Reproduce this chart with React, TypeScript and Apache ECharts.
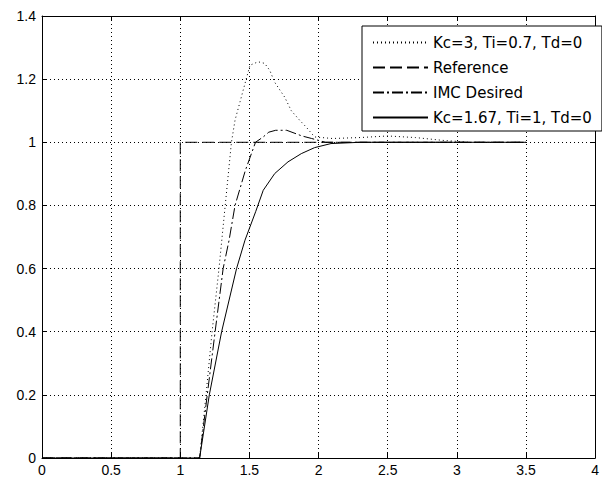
import React, { useEffect, useRef } from "react";
import * as echarts from "echarts";

// Axis ranges / ticks
const xMin = 0;
const xMax = 4;
const xStep = 0.5;
const yMin = 0;
const yMax = 1.4;
const yStep = 0.2;

// Series names
const seriesNames = [
  "Kc=3, Ti=0.7, Td=0",
  "Reference",
  "IMC Desired",
  "Kc=1.67, Ti=1, Td=0",
];

// Kc=3, Ti=0.7 (dotted)
const kc3X = [0, 1.14, 1.186, 1.23, 1.28, 1.325, 1.37, 1.396, 1.432, 1.504, 1.563, 1.61, 1.647, 1.683, 1.755, 1.803, 1.863, 1.911, 1.971, 2.1, 2.3, 2.5, 2.7, 2.9, 3.1, 3.5];
const kc3Y = [0, 0, 0.2, 0.4, 0.6, 0.8, 1.0, 1.07, 1.128, 1.244, 1.255, 1.25, 1.228, 1.19, 1.143, 1.1, 1.07, 1.048, 1.017, 1.012, 1.015, 1.02, 1.015, 1.006, 1.0, 1.0];

// Reference step (dashed)
const refX = [0, 1, 1, 3.5];
const refY = [0, 0, 1, 1];

// IMC desired (dash-dot)
const imcX = [0, 1.14, 1.195, 1.252, 1.31, 1.353, 1.396, 1.47, 1.544, 1.6, 1.64, 1.69, 1.77, 1.88, 1.95, 2.05, 3.5];
const imcY = [0, 0, 0.2, 0.4, 0.6, 0.69, 0.8, 0.91, 1.0, 1.017, 1.032, 1.038, 1.038, 1.02, 1.012, 1.0, 1.0];

// Kc=1.67, Ti=1 (solid)
const kc167X = [0, 1.14, 1.21, 1.299, 1.407, 1.468, 1.545, 1.6, 1.683, 1.779, 1.875, 1.971, 2.09, 2.3, 3.5];
const kc167Y = [0, 0, 0.2, 0.4, 0.6, 0.69, 0.78, 0.848, 0.901, 0.938, 0.964, 0.983, 0.996, 1.0, 1.0];

const pairs = (xs: number[], ys: number[]) => xs.map((x, i) => [x, ys[i]]);

const FONT = "Liberation Sans";
const LEGEND_FONT = "DejaVu Sans";

export default function App() {
  const ref = useRef<HTMLDivElement>(null);
  useEffect(() => {
    if (!ref.current) return;
    const chart = echarts.init(ref.current, undefined, { renderer: "svg" });
    const gridLine = { show: true, lineStyle: { color: "#000", width: 1, type: [1, 3] as any } };
    const axisLabel = { color: "#000", fontSize: 14, fontFamily: FONT };
    const frameAxis = { show: true, onZero: false, lineStyle: { color: "#000", width: 1 } };
    const tick = { show: true, inside: true, length: 5, lineStyle: { color: "#000" } };
    chart.setOption({
      animation: false,
      backgroundColor: "#fff",
      grid: { left: 42, right: 3, top: 16, bottom: 21, containLabel: false },
      xAxis: [
        {
          type: "value", min: xMin, max: xMax, interval: xStep, position: "bottom",
          axisLine: frameAxis, axisTick: tick,
          axisLabel: { ...axisLabel, margin: 5 },
          splitLine: gridLine,
        },
        {
          type: "value", min: xMin, max: xMax, interval: xStep, position: "top",
          axisLine: frameAxis, axisTick: tick,
          axisLabel: { show: false }, splitLine: { show: false },
        },
      ],
      yAxis: [
        {
          type: "value", min: yMin, max: yMax, interval: yStep, position: "left",
          axisLine: frameAxis, axisTick: tick,
          axisLabel: { ...axisLabel, margin: 6 },
          splitLine: gridLine,
        },
        {
          type: "value", min: yMin, max: yMax, interval: yStep, position: "right",
          axisLine: frameAxis, axisTick: tick,
          axisLabel: { show: false }, splitLine: { show: false },
        },
      ],
      legend: {
        show: true,
        orient: "vertical",
        left: 362,
        top: 26,
        itemWidth: 55,
        itemHeight: 14,
        itemGap: 10,
        padding: [9, 10, 6, 10],
        borderColor: "#000",
        borderWidth: 1,
        backgroundColor: "#fff",
        itemStyle: { color: "rgba(0,0,0,0)", borderWidth: 0, opacity: 0 },
        textStyle: { color: "#000", fontSize: 15, fontFamily: LEGEND_FONT },
        data: seriesNames,
      },
      series: [
        {
          name: seriesNames[0], type: "line", data: pairs(kc3X, kc3Y),
          symbol: "none", showSymbol: false,
          lineStyle: { color: "#000", width: 1, type: [1, 3] },
          itemStyle: { color: "#000" },
        },
        {
          name: seriesNames[1], type: "line", data: pairs(refX, refY),
          symbol: "none", showSymbol: false,
          lineStyle: { color: "#000", width: 1, type: [12, 5] },
          itemStyle: { color: "#000" },
        },
        {
          name: seriesNames[2], type: "line", data: pairs(imcX, imcY),
          symbol: "none", showSymbol: false,
          lineStyle: { color: "#000", width: 1, type: [11, 3, 2, 3] },
          itemStyle: { color: "#000" },
        },
        {
          name: seriesNames[3], type: "line", data: pairs(kc167X, kc167Y),
          symbol: "none", showSymbol: false,
          lineStyle: { color: "#000", width: 1, type: "solid" },
          itemStyle: { color: "#000" },
        },
      ],
    });
    return () => chart.dispose();
  }, []);
  return (
    <div
      ref={ref}
      style={{ position: "fixed", left: 0, top: 0, width: 602, height: 479, background: "#fff" }}
    />
  );
}
